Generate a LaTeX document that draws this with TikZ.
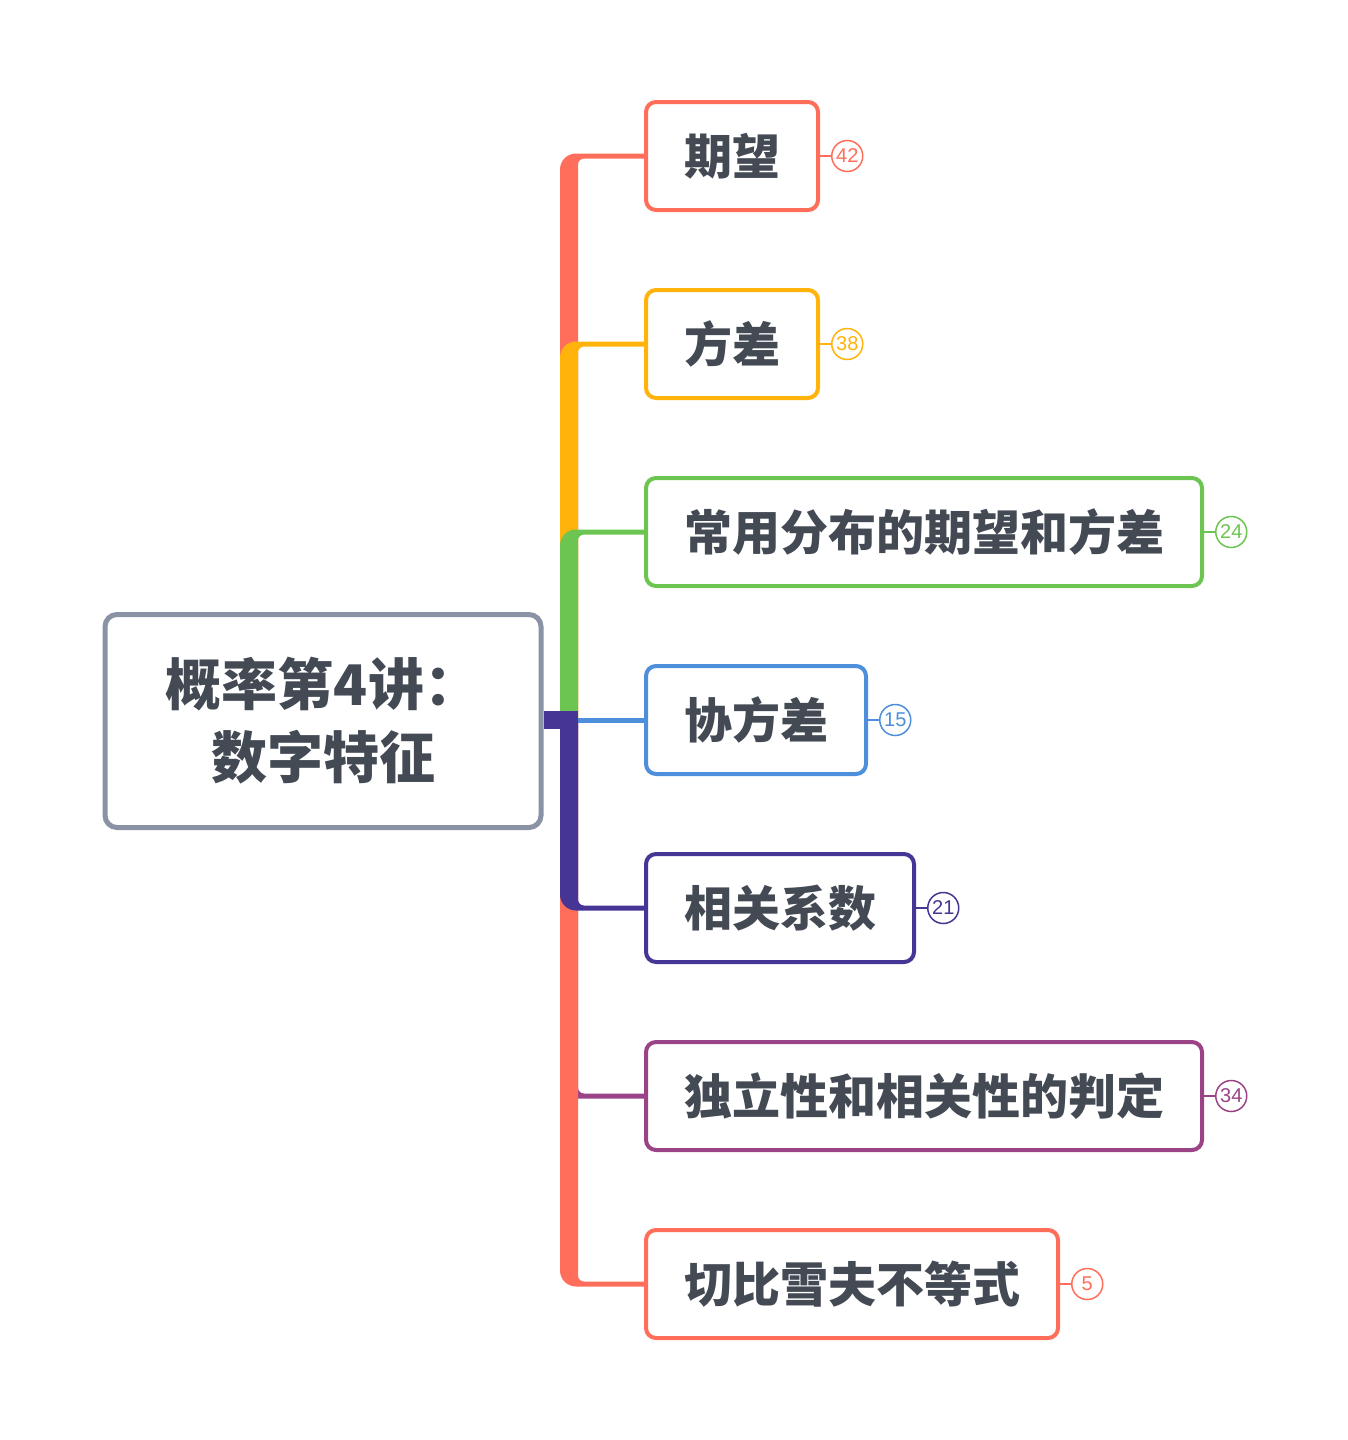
\documentclass[tikz,border=0pt]{standalone}
\usepackage{fontspec}
\setmainfont{Noto Sans CJK SC}
\newfontfamily\numfont{Liberation Sans}
\usetikzlibrary{positioning,backgrounds,calc}

\definecolor{ink}{HTML}{434A54}
\definecolor{cRed}{HTML}{FF6E5B}
\definecolor{cOrange}{HTML}{FFB30B}
\definecolor{cGreen}{HTML}{6CC551}
\definecolor{cBlue}{HTML}{4D8FDA}
\definecolor{cPurple}{HTML}{463594}
\definecolor{cMagenta}{HTML}{9A4487}
\definecolor{cGray}{HTML}{8A93A5}

% branch geometry: half width of the thin arm, trunk width, corner radii, Bezier factor
\newcommand\brH{2.5pt}
\newcommand\brW{18pt}
\newcommand\brR{16pt}
\newcommand\brr{6pt}
\newcommand\brK{0.5523}

% #1 colour, #2 start coordinate on the trunk, #3 child node, #4 +1 (child above) / -1 (child below)
\newcommand\branch[4]{%
  \fill[#1] let \p1=(#3.west), \p2=(#2) in
    (\x2,\y2) -- (\x2,{\y1+(#4)*\brH-(#4)*\brR})
    .. controls (\x2,{\y1+(#4)*\brH-(#4)*\brR+(#4)*\brK*\brR})
       and ({\x2+\brR-\brK*\brR},{\y1+(#4)*\brH}) .. ({\x2+\brR},{\y1+(#4)*\brH})
    -- (\x1,{\y1+(#4)*\brH}) -- (\x1,{\y1-(#4)*\brH})
    -- ({\x2+\brW+\brr},{\y1-(#4)*\brH})
    .. controls ({\x2+\brW+\brr-\brK*\brr},{\y1-(#4)*\brH})
       and ({\x2+\brW},{\y1-(#4)*\brH-(#4)*\brr+(#4)*\brK*\brr}) .. ({\x2+\brW},{\y1-(#4)*\brH-(#4)*\brr})
    -- ({\x2+\brW},\y2) -- cycle;}

\begin{document}
\begin{tikzpicture}[x=1pt,y=-1pt,
  rootbox/.style={draw=cGray, line width=5pt, rounded corners=12pt, fill=white,
    minimum width=436pt, minimum height=213pt, inner sep=0pt, align=center,
    font=\fontsize{56}{73}\selectfont\bfseries, text=ink},
  topic/.style={draw=#1, line width=4pt, rounded corners=10pt, fill=white,
    anchor=west, minimum height=108pt, inner xsep=38pt, inner ysep=0pt,
    font=\fontsize{48}{56}\selectfont\bfseries, text=ink},
  badge/.style={draw=#1, circle, line width=1.5pt, minimum size=31pt, inner sep=0pt,
    fill=white, text=#1, font=\numfont\fontsize{20}{20}\selectfont},
  tick/.style={draw=#1, line width=2pt}]

\useasboundingbox (0,0) rectangle (1348,1440);

% central topic
\node[rootbox] (root) at (323,721) {概率第4讲：\\数字特征};
\coordinate (hub) at (560,720);

% subtopics
\node[topic=cRed]     (c1) at (644,156)  {期望};
\node[topic=cOrange]  (c2) at (644,344)  {方差};
\node[topic=cGreen]   (c3) at (644,532)  {常用分布的期望和方差};
\node[topic=cBlue]    (c4) at (644,720)  {协方差};
\node[topic=cPurple]  (c5) at (644,908)  {相关系数};
\node[topic=cMagenta] (c6) at (644,1096) {独立性和相关性的判定};
\node[topic=cRed]     (c7) at (644,1284) {切比雪夫不等式};

% counters
\node[badge=cRed,     right=11pt of c1] (b1) {42};
\node[badge=cOrange,  right=11pt of c2] (b2) {38};
\node[badge=cGreen,   right=11pt of c3] (b3) {24};
\node[badge=cBlue,    right=11pt of c4] (b4) {15};
\node[badge=cPurple,  right=11pt of c5] (b5) {21};
\node[badge=cMagenta, right=11pt of c6] (b6) {34};
\node[badge=cRed,     right=11pt of c7] (b7) {5};

\draw[tick=cRed]     (c1.east) -- (b1.west);
\draw[tick=cOrange]  (c2.east) -- (b2.west);
\draw[tick=cGreen]   (c3.east) -- (b3.west);
\draw[tick=cBlue]    (c4.east) -- (b4.west);
\draw[tick=cPurple]  (c5.east) -- (b5.west);
\draw[tick=cMagenta] (c6.east) -- (b6.west);
\draw[tick=cRed]     (c7.east) -- (b7.west);

% branches behind the boxes
\begin{scope}[on background layer]
  \branch{cRed}{hub}{c1}{1}
  \branch{cOrange}{hub}{c2}{1}
  \branch{cGreen}{hub}{c3}{1}
  \branch{cMagenta}{hub}{c6}{-1}
  \branch{cRed}{hub}{c7}{-1}
  \fill[cPurple] let \p1=(root.east), \p2=(hub) in
    (\x1,{\y2+9pt}) rectangle ({\x2+\brW},{\y2-9pt});
  \branch{cPurple}{hub}{c5}{-1}
  \draw[cBlue, line width=5pt] let \p1=(c4.west), \p2=(hub) in
    ({\x2+\brW},\y1) -- (c4.west);
\end{scope}
\end{tikzpicture}
\end{document}
